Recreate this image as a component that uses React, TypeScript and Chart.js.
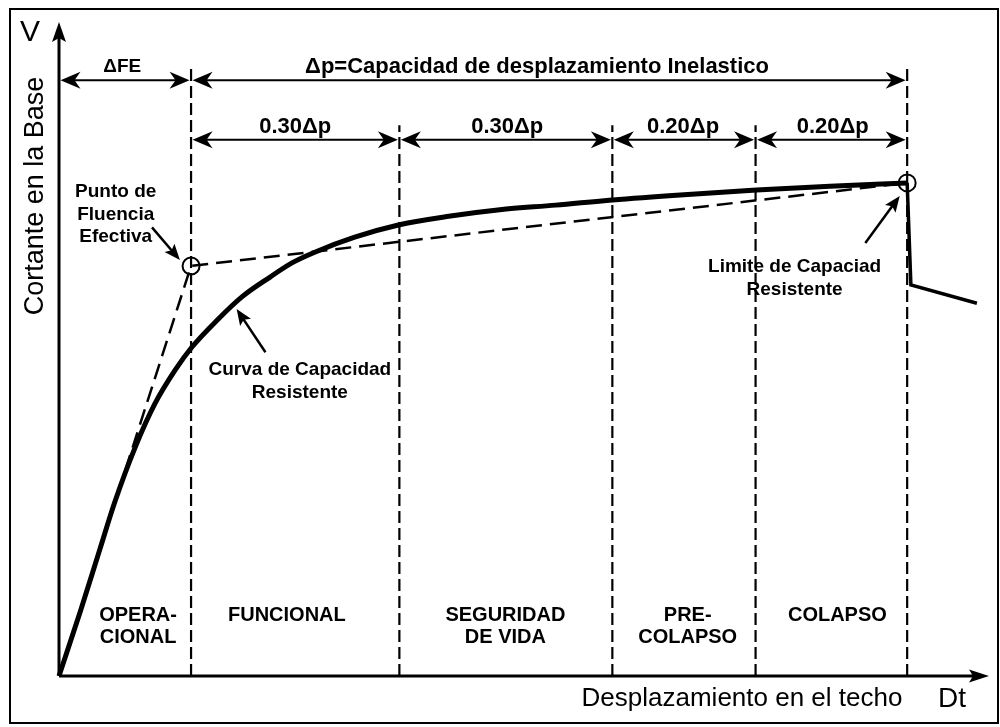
import React, { useEffect, useRef } from "react";
import { Chart, registerables } from "chart.js";

Chart.register(...registerables);

// ---- data (displacement / base shear in relative units, 0..100) ----
const curveX = [0, 2.3, 4.4, 6.0, 8.2, 10.3, 12.5, 14.3, 17.0, 19.7, 22.7, 25.1, 27.5, 31.8, 36.6, 41.9, 47.4, 53.4, 59.5, 67.2, 75.0, 82.9, 91.2];
const curveY = [0, 9.9, 19.4, 26.6, 35.0, 41.6, 46.8, 50.3, 54.4, 58.0, 61.0, 63.2, 64.8, 67.1, 69.0, 70.3, 71.3, 72.0, 72.8, 73.6, 74.3, 74.9, 75.4];
const postPeakX = [91.2, 91.6, 98.7];
const postPeakY = [75.4, 59.8, 57.0];
const bilinearX = [0, 14.2, 91.2];
const bilinearY = [0, 62.7, 75.4];
const keyPointX = [14.2, 91.2];
const keyPointY = [62.7, 75.4];
const limitX = [14.2, 36.6, 59.5, 74.9, 91.2];
const limitTop = [93.0, 84.2, 84.2, 84.2, 93.0];

const row1Bounds = [0, 14.2, 91.2];
const row1Labels = ["ΔFE", "Δp=Capacidad de desplazamiento Inelastico"];
const row1LabelX = [6.8, 51.4];
const row2Bounds = [14.2, 36.6, 59.5, 74.9, 91.2];
const row2Labels = ["0.30Δp", "0.30Δp", "0.20Δp", "0.20Δp"];
const row2LabelX = [25.4, 48.2, 67.1, 83.2];

const zoneLabels = [["OPERA-", "CIONAL"], ["FUNCIONAL"], ["SEGURIDAD", "DE VIDA"], ["PRE-", "COLAPSO"], ["COLAPSO"]];
const zoneX = [8.5, 24.5, 48.0, 67.6, 83.7];

const noteLines = [["Punto de", "Fluencia", "Efectiva"], ["Curva de Capacidad", "Resistente"], ["Limite de Capaciad", "Resistente"]];
const noteX = [6.1, 25.9, 79.1];
const noteY = [74.0, 46.8, 62.5];
const noteArrowFrom = [[10.0, 68.6], [22.2, 49.5], [86.7, 66.2]];
const noteArrowTo = [[13.0, 63.6], [19.1, 56.1], [90.4, 73.4]];

const xAxisTitle = "Desplazamiento en el techo";
const yAxisTitle = "Cortante en la Base";

const FONT = '"Liberation Sans", Arial, Helvetica, sans-serif';

function pts(xs: number[], ys: number[]) {
  return xs.map((x, i) => ({ x, y: ys[i] }));
}

function arrowHead(ctx: CanvasRenderingContext2D, tx: number, ty: number, fx: number, fy: number, len: number, half: number, notch: number) {
  const a = Math.atan2(ty - fy, tx - fx);
  const c = Math.cos(a), s = Math.sin(a);
  const bx = tx - c * len, by = ty - s * len;
  const nx = tx - c * len * notch, ny = ty - s * len * notch;
  ctx.beginPath();
  ctx.moveTo(tx, ty);
  ctx.lineTo(bx - s * half, by + c * half);
  ctx.lineTo(nx, ny);
  ctx.lineTo(bx + s * half, by - c * half);
  ctx.closePath();
  ctx.fill();
}

const diagramPlugin = {
  id: "diagram",
  beforeDraw(chart: any) {
    const ctx = chart.ctx as CanvasRenderingContext2D;
    ctx.save();
    ctx.fillStyle = "#fff";
    ctx.fillRect(0, 0, chart.width, chart.height);
    ctx.strokeStyle = "#000";
    ctx.lineWidth = 2;
    ctx.strokeRect(10, 9, 988, 714);
    ctx.restore();
  },
  afterDatasetsDraw(chart: any) {
    const ctx = chart.ctx as CanvasRenderingContext2D;
    const xs = chart.scales.x, ys = chart.scales.y;
    const X = (v: number) => xs.getPixelForValue(v);
    const Y = (v: number) => ys.getPixelForValue(v);
    const ca = chart.chartArea;
    ctx.save();
    ctx.strokeStyle = "#000";
    ctx.fillStyle = "#000";
    ctx.setLineDash([]);

    // axes
    ctx.lineWidth = 3;
    ctx.beginPath();
    ctx.moveTo(ca.left, ca.bottom);
    ctx.lineTo(ca.left, ca.top + 12);
    ctx.moveTo(ca.left, ca.bottom);
    ctx.lineTo(ca.right - 12, ca.bottom);
    ctx.stroke();
    arrowHead(ctx, ca.left, ca.top, ca.left, ca.bottom, 20, 7, 0.8);
    arrowHead(ctx, ca.right, ca.bottom, ca.left, ca.bottom, 20, 6.5, 0.8);

    // dimension rows
    const drawRow = (bounds: number[], yv: number) => {
      ctx.lineWidth = 2;
      for (let i = 0; i < bounds.length - 1; i++) {
        const x1 = X(bounds[i]), x2 = X(bounds[i + 1]), y = Y(yv);
        ctx.beginPath();
        ctx.moveTo(x1 + 10, y);
        ctx.lineTo(x2 - 10, y);
        ctx.stroke();
        arrowHead(ctx, x1 + 1.5, y, x2, y, 20, 8.5, 0.7);
        arrowHead(ctx, x2 - 1.5, y, x1, y, 20, 8.5, 0.7);
      }
    };
    drawRow(row1Bounds, 91.1);
    drawRow(row2Bounds, 82.0);

    ctx.textAlign = "center";
    ctx.textBaseline = "middle";
    ctx.font = `bold 19px ${FONT}`;
    ctx.fillText(row1Labels[0], X(row1LabelX[0]), Y(93.1));
    ctx.font = `bold 22px ${FONT}`;
    ctx.fillText(row1Labels[1], X(row1LabelX[1]), Y(93.1));
    row2Labels.forEach((t, i) => ctx.fillText(t, X(row2LabelX[i]), Y(84.0)));

    // zone labels
    ctx.font = `bold 20px ${FONT}`;
    zoneLabels.forEach((lines, i) => {
      lines.forEach((t, j) => ctx.fillText(t, X(zoneX[i]), Y(9.3) + j * 22));
    });

    // notes + arrows
    ctx.font = `bold 19px ${FONT}`;
    noteLines.forEach((lines, i) => {
      lines.forEach((t, j) => ctx.fillText(t, X(noteX[i]), Y(noteY[i]) + j * 22.5));
      const fx = X(noteArrowFrom[i][0]), fy = Y(noteArrowFrom[i][1]);
      const tx = X(noteArrowTo[i][0]), ty = Y(noteArrowTo[i][1]);
      const a = Math.atan2(ty - fy, tx - fx);
      ctx.lineWidth = 2.5;
      ctx.beginPath();
      ctx.moveTo(fx, fy);
      ctx.lineTo(tx - Math.cos(a) * 10, ty - Math.sin(a) * 10);
      ctx.stroke();
      arrowHead(ctx, tx, ty, fx, fy, 16, 6.5, 0.8);
    });

    // axis titles
    ctx.font = `30px ${FONT}`;
    ctx.fillText("V", 30, 33);
    ctx.font = `28px ${FONT}`;
    ctx.fillText("Dt", 952, 699);
    ctx.font = `26px ${FONT}`;
    ctx.fillText(xAxisTitle, 742, 699);
    ctx.save();
    ctx.translate(36, 196);
    ctx.rotate(-Math.PI / 2);
    ctx.font = `27px ${FONT}`;
    ctx.fillText(yAxisTitle, 0, 0);
    ctx.restore();

    ctx.restore();
  },
};

export default function App() {
  const ref = useRef<HTMLCanvasElement | null>(null);
  useEffect(() => {
    if (!ref.current) return;
    const limitSets = limitX.map((x, i) => ({
      data: [{ x, y: 0 }, { x, y: limitTop[i] }],
      showLine: true,
      borderColor: "#000",
      borderWidth: 2.2,
      borderDash: [12, 5],
      pointRadius: 0,
      tension: 0,
      clip: false as any,
    }));
    const chart = new Chart(ref.current, {
      type: "scatter",
      data: {
        datasets: [
          ...limitSets,
          {
            data: pts(bilinearX, bilinearY),
            showLine: true,
            borderColor: "#000",
            borderWidth: 2.5,
            borderDash: [16, 8],
            pointRadius: 0,
            tension: 0,
            clip: false as any,
          },
          {
            data: pts(curveX, curveY),
            showLine: true,
            borderColor: "#000",
            borderWidth: 5,
            pointRadius: 0,
            cubicInterpolationMode: "monotone",
            clip: false as any,
          },
          {
            data: pts(postPeakX, postPeakY),
            showLine: true,
            borderColor: "#000",
            borderWidth: 3.5,
            pointRadius: 0,
            tension: 0,
            clip: false as any,
          },
          {
            data: pts(keyPointX, keyPointY),
            showLine: false,
            pointRadius: 8.5,
            pointBorderWidth: 2,
            pointBorderColor: "#000",
            pointBackgroundColor: "rgba(0,0,0,0)",
            clip: false as any,
          },
        ] as any,
      },
      options: {
        animation: false,
        responsive: false,
        events: [],
        layout: { padding: { left: 59, top: 22, right: 11, bottom: 51 } },
        plugins: { legend: { display: false }, tooltip: { enabled: false } },
        scales: {
          x: { type: "linear", min: 0, max: 100, display: false },
          y: { type: "linear", min: 0, max: 100, display: false },
        },
      },
      plugins: [diagramPlugin],
    });
    return () => chart.destroy();
  }, []);
  return (
    <div style={{ position: "fixed", left: 0, top: 0, width: 1000, height: 727, background: "#fff" }}>
      <canvas ref={ref} width={1000} height={727} style={{ display: "block" }} />
    </div>
  );
}
